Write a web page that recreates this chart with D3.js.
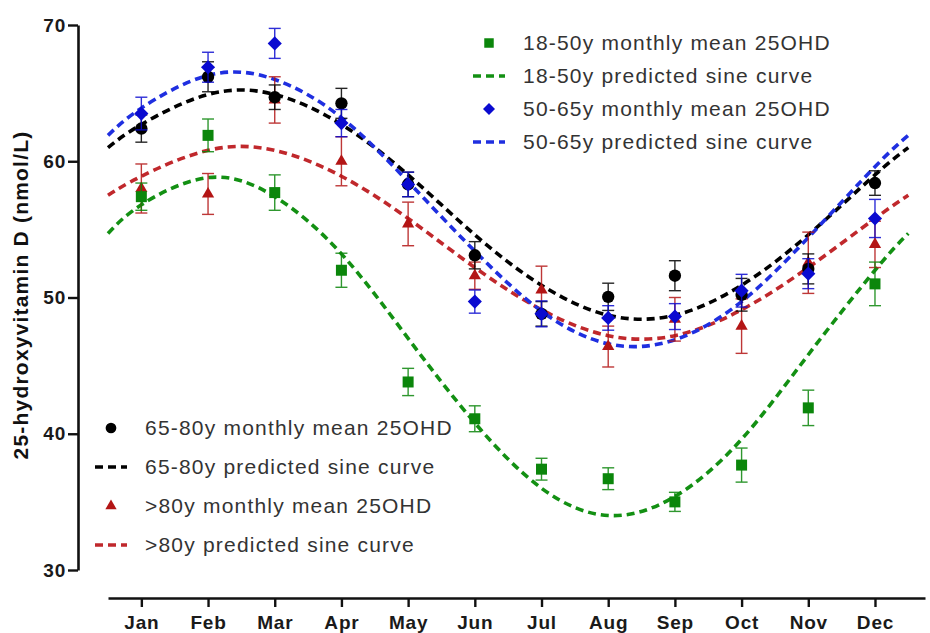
<!DOCTYPE html>
<html>
<head>
<meta charset="utf-8">
<script src="https://cdn.jsdelivr.net/npm/d3@7"></script>
<style>
  body { margin: 0; background: #fff; }
  svg { display: block; font-family: Arial, "Liberation Sans", sans-serif; }
</style>
</head>
<body>
<svg width="930" height="633"></svg>
<script>
// meses e índices
const months = ["Jan", "Feb", "Mar", "Apr", "May", "Jun", "Jul", "Aug", "Sep", "Oct", "Nov", "Dec"];
const monthIdx = [1, 2, 3, 4, 5, 6, 7, 8, 9, 10, 11, 12];
const yTicks = [30, 40, 50, 60, 70];

// médias mensais 25OHD (nmol/L) e erro padrão
const mean18_50 = [57.4, 61.9, 57.7, 52.0, 43.8, 41.1, 37.4, 36.7, 35.0, 37.7, 41.9, 51.0];
const err18_50  = [1.0, 1.2, 1.3, 1.25, 1.0, 0.95, 0.8, 0.8, 0.7, 1.25, 1.3, 1.6];
const mean50_65 = [63.5, 66.9, 68.65, 62.8, 58.3, 49.7, 48.8, 48.5, 48.6, 50.5, 51.75, 55.8];
const err50_65  = [1.2, 1.1, 1.1, 1.0, 0.9, 0.85, 0.95, 0.9, 0.95, 1.2, 1.1, 1.4];
const mean65_80 = [62.4, 66.2, 64.7, 64.25, 58.3, 53.1, 48.8, 50.05, 51.6, 50.2, 52.1, 58.4];
const err65_80  = [1.0, 1.1, 0.9, 1.1, 0.9, 1.0, 0.9, 1.0, 1.1, 1.2, 1.1, 0.9];
const meanOver80 = [58.0, 57.6, 64.5, 60.0, 55.4, 51.6, 50.55, 46.4, 48.4, 47.9, 52.55, 53.9];
const errOver80  = [1.8, 1.5, 1.7, 1.8, 1.6, 1.0, 1.75, 1.5, 1.6, 2.0, 2.25, 1.7];

// curvas senoidais previstas
const curveMonths = [0.5, 1, 2, 3, 4, 5, 6, 7, 8, 9, 10, 11, 12, 12.5];
const fit18_50  = [54.7, 56.8, 58.8, 57.4, 53.2, 47.0, 40.8, 36.0, 34.0, 35.4, 39.6, 45.8, 52.0, 54.7];
const fit50_65  = [61.9, 63.9, 66.3, 66.0, 63.2, 58.5, 53.4, 49.0, 46.6, 46.9, 49.7, 54.4, 59.6, 61.9];
const fit65_80  = [61.0, 62.7, 64.9, 64.9, 62.7, 59.0, 54.6, 50.9, 48.7, 48.7, 50.9, 54.6, 59.0, 61.0];
const fitOver80 = [57.5, 58.9, 60.8, 60.8, 58.9, 55.8, 52.2, 49.1, 47.2, 47.2, 49.1, 52.2, 55.8, 57.5];

const series = [
  { key: ">80y", color: "#b31515", line: "#c0282c", mean: meanOver80, err: errOver80, fit: fitOver80, shape: "triangle" },
  { key: "65-80y", color: "#000000", line: "#000000", mean: mean65_80, err: err65_80, fit: fit65_80, shape: "circle" },
  { key: "50-65y", color: "#0a0ad0", line: "#1f2fe0", mean: mean50_65, err: err50_65, fit: fit50_65, shape: "diamond" },
  { key: "18-50y", color: "#0b860b", line: "#139013", mean: mean18_50, err: err18_50, fit: fit18_50, shape: "square" }
];

const svg = d3.select("svg"),
    width = +svg.attr("width"),
    height = +svg.attr("height");

const x = d3.scaleLinear().domain([0.5, 12.75]).range([108, 925]);
const y = d3.scaleLinear().domain([30, 70]).range([570, 25]);

function symbolPath(shape) {
  if (shape === "circle") return d3.symbol(d3.symbolCircle, 120)();
  if (shape === "square") return d3.symbol(d3.symbolSquare, 121)();
  if (shape === "diamond") return d3.symbol(d3.symbolSquare, 100)();
  return d3.symbol(d3.symbolTriangle, 65)();
}
function symbolTransform(shape, px, py) {
  return "translate(" + px + "," + py + ")" + (shape === "diamond" ? " rotate(45)" : "");
}

// eixos
const yAxis = svg.append("g")
    .attr("transform", "translate(78,0)")
    .call(d3.axisLeft(y).tickValues(yTicks).tickSize(10).tickSizeOuter(0).tickPadding(2));
const xAxis = svg.append("g")
    .attr("transform", "translate(0,598)")
    .call(d3.axisBottom(x).tickValues(monthIdx).tickFormat((d, i) => months[i])
      .tickSize(9).tickSizeOuter(0).tickPadding(9));

[yAxis, xAxis].forEach(a => {
  a.select(".domain").attr("stroke", "#111").attr("stroke-width", 2.6);
  a.selectAll(".tick line").attr("stroke", "#111").attr("stroke-width", 2.4);
  a.selectAll(".tick text")
    .attr("fill", "#1a1a1a")
    .attr("font-size", 19)
    .attr("font-weight", "bold")
    .attr("letter-spacing", "0.8px")
    .attr("font-family", "Arial, 'Liberation Sans', sans-serif");
});

svg.append("text")
    .attr("transform", "translate(28,295) rotate(-90)")
    .attr("text-anchor", "middle")
    .attr("font-size", 21)
    .attr("font-weight", "bold")
    .attr("letter-spacing", "1.2px")
    .attr("fill", "#111")
    .text("25-hydroxyvitamin D (nmol/L)");

// curvas previstas
const line = d3.line()
    .x((d, i) => x(curveMonths[i]))
    .y(d => y(d))
    .curve(d3.curveNatural);

svg.append("g").selectAll("path")
  .data(series)
  .enter().append("path")
    .attr("d", d => line(d.fit))
    .attr("fill", "none")
    .attr("stroke", d => d.line)
    .attr("stroke-width", 3.6)
    .attr("stroke-dasharray", "8,5");

// barras de erro e médias
series.forEach(s => {
  const g = svg.append("g");
  const pts = monthIdx.map((m, i) => ({ m: m, v: s.mean[i], e: s.err[i] }));
  const eb = g.selectAll(".eb").data(pts).enter().append("g")
      .attr("stroke", s.color).attr("stroke-width", 1.4).attr("opacity", 0.85);
  eb.append("line")
      .attr("x1", d => x(d.m)).attr("x2", d => x(d.m))
      .attr("y1", d => y(d.v + d.e)).attr("y2", d => y(d.v - d.e));
  eb.append("line")
      .attr("x1", d => x(d.m) - 6).attr("x2", d => x(d.m) + 6)
      .attr("y1", d => y(d.v + d.e)).attr("y2", d => y(d.v + d.e));
  eb.append("line")
      .attr("x1", d => x(d.m) - 6).attr("x2", d => x(d.m) + 6)
      .attr("y1", d => y(d.v - d.e)).attr("y2", d => y(d.v - d.e));
  g.selectAll(".pt").data(pts).enter().append("path")
      .attr("d", symbolPath(s.shape))
      .attr("transform", d => symbolTransform(s.shape, x(d.m), y(d.v)))
      .attr("fill", s.color);
});

// legendas
const legendTop = [
  { s: series[3], kind: "mean", text: "18-50y monthly mean 25OHD" },
  { s: series[3], kind: "fit", text: "18-50y predicted sine curve" },
  { s: series[2], kind: "mean", text: "50-65y monthly mean 25OHD" },
  { s: series[2], kind: "fit", text: "50-65y predicted sine curve" }
];
const legendBottom = [
  { s: series[1], kind: "mean", text: "65-80y monthly mean 25OHD" },
  { s: series[1], kind: "fit", text: "65-80y predicted sine curve" },
  { s: series[0], kind: "mean", text: ">80y monthly mean 25OHD" },
  { s: series[0], kind: "fit", text: ">80y predicted sine curve" }
];

function drawLegend(items, x0, y0, step) {
  const g = svg.append("g").attr("transform", "translate(" + x0 + "," + y0 + ")");
  const row = g.selectAll("g").data(items).enter().append("g")
      .attr("transform", (d, i) => "translate(0," + i * step + ")");
  row.filter(d => d.kind === "mean").append("path")
      .attr("d", d => d.s.shape === "diamond" ? d3.symbol(d3.symbolSquare, 72)() : d3.symbol(
        d.s.shape === "circle" ? d3.symbolCircle : d.s.shape === "square" ? d3.symbolSquare : d3.symbolTriangle,
        d.s.shape === "triangle" ? 55 : 90)())
      .attr("transform", d => symbolTransform(d.s.shape, 0, 0))
      .attr("fill", d => d.s.color);
  row.filter(d => d.kind === "fit").append("line")
      .attr("x1", -16).attr("x2", 16)
      .attr("stroke", d => d.s.line)
      .attr("stroke-width", 3.6)
      .attr("stroke-dasharray", "8,5");
  row.append("text")
      .attr("x", 34)
      .attr("dy", "0.35em")
      .attr("font-size", 21)
      .attr("letter-spacing", "1.2px")
      .attr("fill", "#333")
      .text(d => d.text);
}
drawLegend(legendTop, 489, 43, 33);
drawLegend(legendBottom, 111, 428, 39);
</script>
</body>
</html>
